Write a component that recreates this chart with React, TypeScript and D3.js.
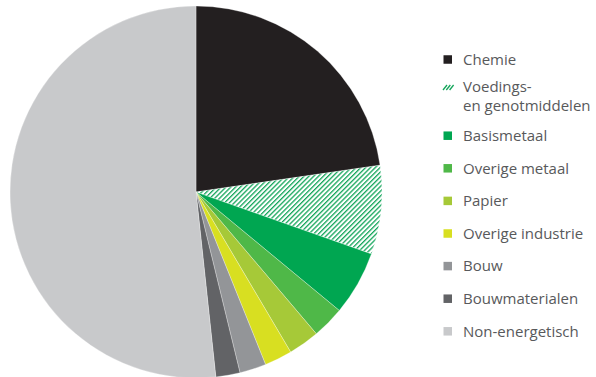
import { useEffect, useRef } from "react";
import { select, pie, arc, PieArcDatum } from "d3";

const categories = [
  "Chemie",
  "Voedings- en genotmiddelen",
  "Basismetaal",
  "Overige metaal",
  "Papier",
  "Overige industrie",
  "Bouw",
  "Bouwmaterialen",
  "Non-energetisch",
];
const legendLabels = [
  ["Chemie"],
  ["Voedings-", "en genotmiddelen"],
  ["Basismetaal"],
  ["Overige metaal"],
  ["Papier"],
  ["Overige industrie"],
  ["Bouw"],
  ["Bouwmaterialen"],
  ["Non-energetisch"],
];
const values = [22.7, 7.7, 5.6, 2.8, 2.7, 2.4, 2.3, 2.1, 51.7];
const colors = [
  "#231f20",
  "url(#hatch)",
  "#00a651",
  "#4fb848",
  "#a6c938",
  "#d8df21",
  "#939598",
  "#626366",
  "#c8c9cb",
];

const App: React.FC = () => {
  const svgRef = useRef<SVGSVGElement>(null);

  useEffect(() => {
    const svg = select(svgRef.current);
    svg.selectAll("*").remove();

    const defs = svg.append("defs");
    const pat = defs
      .append("pattern")
      .attr("id", "hatch")
      .attr("patternUnits", "userSpaceOnUse")
      .attr("width", 3.4)
      .attr("height", 3.4)
      .attr("patternTransform", "rotate(45)");
    pat.append("rect").attr("width", 3.4).attr("height", 3.4).attr("fill", "#fff");
    pat
      .append("rect")
      .attr("width", 1.3)
      .attr("height", 3.4)
      .attr("fill", "#13a55a");

    const cx = 196;
    const cy = 192;
    const r = 186;

    // slices start at 12 o'clock and run clockwise in data order
    const pieGen = pie<number>().sort(null).value((d) => d);
    const arcGen = arc<PieArcDatum<number>>().innerRadius(0).outerRadius(r);

    svg
      .append("g")
      .attr("transform", `translate(${cx},${cy})`)
      .selectAll("path")
      .data(pieGen(values))
      .join("path")
      .attr("d", arcGen)
      .attr("fill", (d, i) => colors[i])
      .attr("stroke", "#fff")
      .attr("stroke-width", 0.3);

    // legend
    const lx = 443.5;
    const step = 32.6;
    const legend = svg.append("g");
    categories.forEach((cat, i) => {
      const yc = 59.5 + step * i + (i >= 2 ? 11 : 0);
      const lines = legendLabels[i];
      const g = legend.append("g");
      if (i === 1) {
        // small hatch icon
        const y0 = 82;
        [0, 3.3, 6.6].forEach((o) => {
          g.append("line")
            .attr("x1", lx + o - 0.5)
            .attr("y1", y0 + 8)
            .attr("x2", lx + o + 3.5)
            .attr("y2", y0 + 3)
            .attr("stroke", "#13a55a")
            .attr("stroke-width", 1.3);
        });
        g.append("text").attr("x", 463).attr("y", 91.5).text(lines[0]);
        g.append("text").attr("x", 463).attr("y", 110.5).text(lines[1]);
      } else {
        g.append("rect")
          .attr("x", lx)
          .attr("y", yc - 4.25)
          .attr("width", 8.5)
          .attr("height", 8.5)
          .attr("fill", colors[i]);
        g.append("text")
          .attr("x", 463)
          .attr("y", yc + 5.2)
          .text(lines[0]);
      }
    });
    legend
      .selectAll("text")
      .attr("font-family", "'Open Sans', sans-serif")
      .attr("font-size", 15)
      .attr("fill", "#58595b");
  }, []);

  return (
    <svg
      ref={svgRef}
      width={596}
      height={377}
      style={{ position: "absolute", left: 0, top: 0 }}
    />
  );
};

export default App;
